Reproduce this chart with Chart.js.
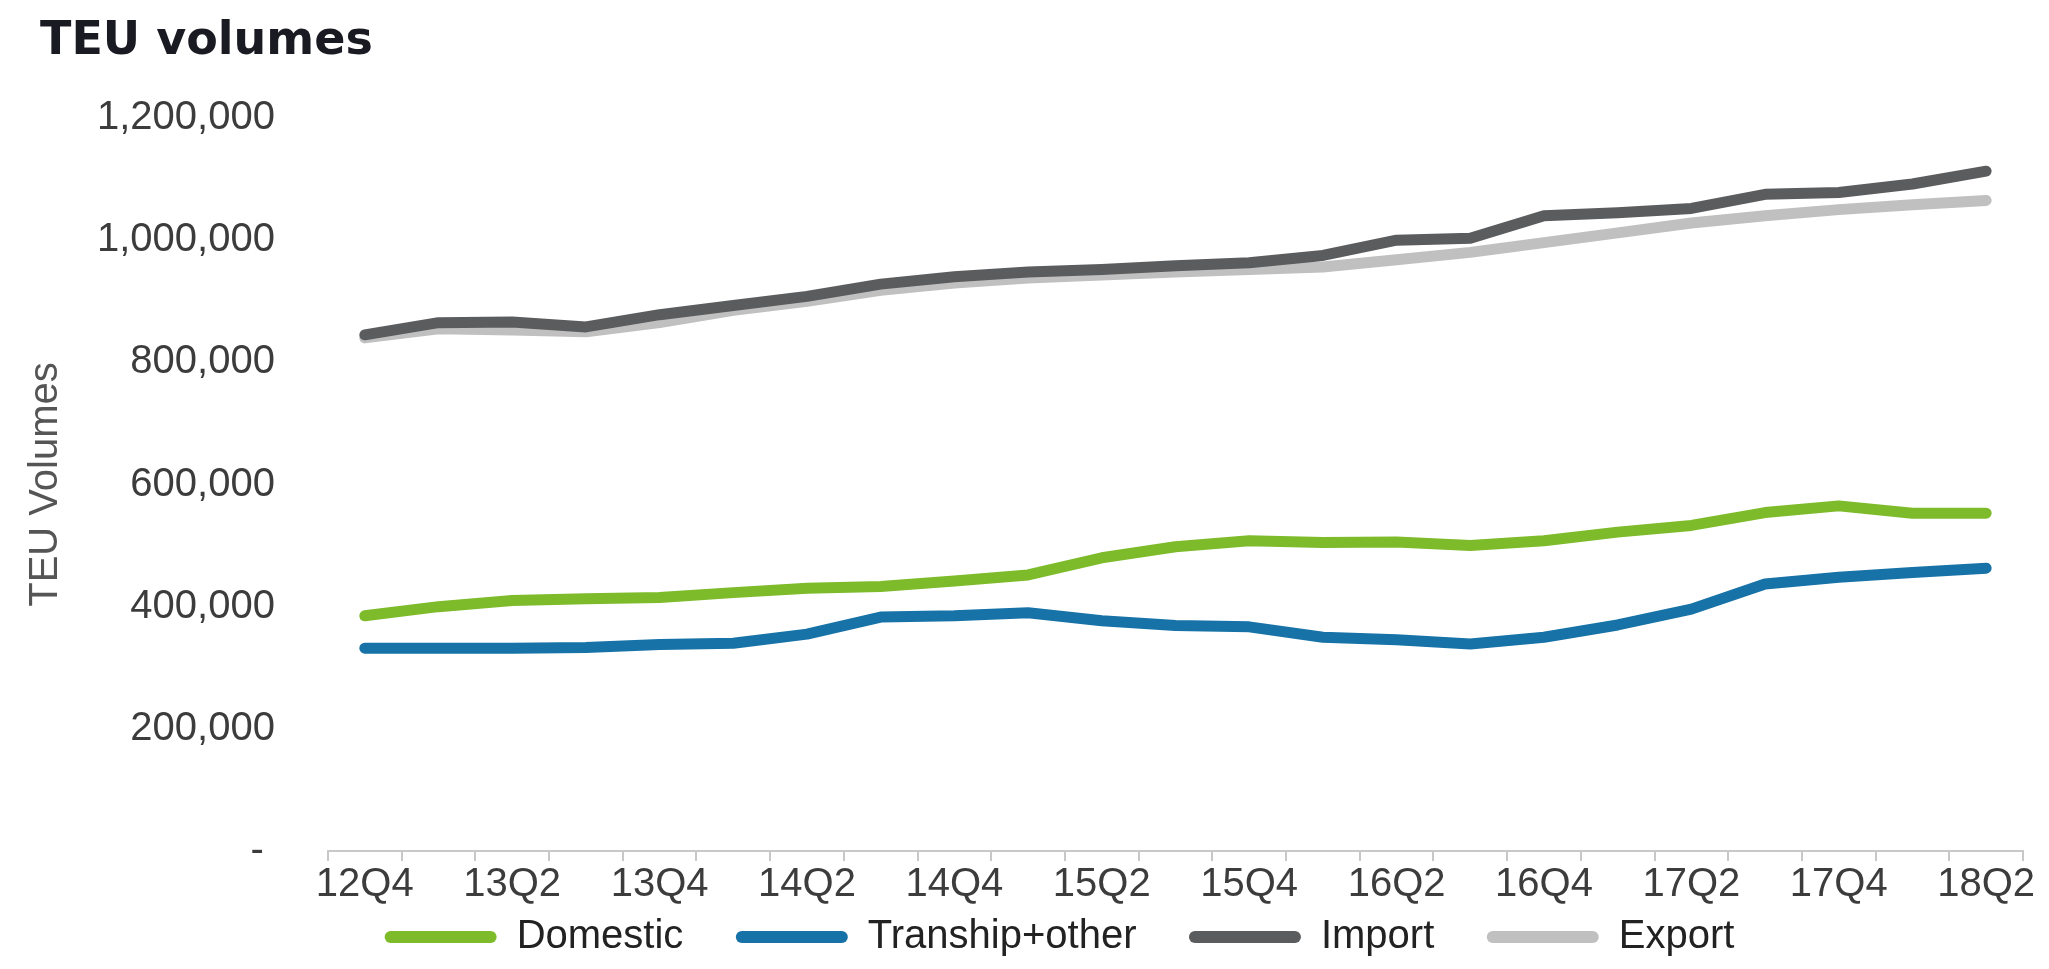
<!DOCTYPE html>
<html>
<head>
<meta charset="utf-8">
<title>TEU volumes</title>
<script src="https://cdn.jsdelivr.net/npm/chart.js@4.4.1/dist/chart.umd.min.js"></script>
<style>
    html, body { margin: 0; padding: 0; background: #ffffff; }
    #wrap { position: relative; width: 2049px; height: 969px; }
    #chart-title {
        position: absolute; left: 40px; top: 15px;
        font-family: "DejaVu Sans", Verdana, sans-serif; font-weight: bold;
        font-size: 46px; line-height: 46px; color: #1a1a22;
    }
    canvas { position: absolute; left: 0; top: 0; }
</style>
</head>
<body>
<div id="wrap">
    <canvas id="teu-chart" width="2049" height="969"></canvas>
    <div id="chart-title">TEU volumes</div>
</div>
<script>
    // quarterly TEU volumes
    var quarters = ["12Q4", "13Q1", "13Q2", "13Q3", "13Q4", "14Q1", "14Q2", "14Q3", "14Q4",
        "15Q1", "15Q2", "15Q3", "15Q4", "16Q1", "16Q2", "16Q3", "16Q4",
        "17Q1", "17Q2", "17Q3", "17Q4", "18Q1", "18Q2"];
    var domestic = [385000, 400000, 410000, 413000, 415000, 423000, 430000, 433000, 442000,
        452000, 480000, 498000, 508000, 505000, 506000, 500000, 508000,
        522000, 533000, 554000, 565000, 553000, 553000];
    var tranship = [332000, 332000, 332000, 333000, 338000, 340000, 355000, 383000, 385000,
        390000, 377000, 369000, 367000, 350000, 346000, 339000, 350000,
        370000, 396000, 437000, 448000, 456000, 463000];
    var imports = [845000, 865000, 866000, 858000, 878000, 893000, 908000, 928000, 940000,
        948000, 952000, 958000, 963000, 975000, 1000000, 1003000, 1040000,
        1045000, 1052000, 1075000, 1078000, 1092000, 1113000];
    var exports = [840000, 855000, 853000, 850000, 865000, 885000, 900000, 918000, 930000,
        938000, 943000, 948000, 952000, 956000, 968000, 980000, 996000,
        1012000, 1028000, 1040000, 1050000, 1058000, 1065000];
    var yTicks = [0, 200000, 400000, 600000, 800000, 1000000, 1200000];

    document.addEventListener("DOMContentLoaded", function() {
        var ctx = document.getElementById("teu-chart").getContext("2d");
        var fontFamily = "'Liberation Sans', Arial, sans-serif";

        function lineSet(label, data, color) {
            return {
                label: label,
                data: data,
                borderColor: color,
                backgroundColor: color,
                borderWidth: 11,
                borderCapStyle: 'round',
                borderJoinStyle: 'round',
                pointRadius: 0,
                tension: 0,
                fill: false
            };
        }

        new Chart(ctx, {
            type: "line",
            data: {
                labels: quarters,
                datasets: [
                    lineSet("Domestic", domestic, "#7dbb2a"),
                    lineSet("Tranship+other", tranship, "#1672a7"),
                    lineSet("Import", imports, "#5b5c5e"),
                    lineSet("Export", exports, "#c0c0c0")
                ]
            },
            options: {
                responsive: false,
                animation: false,
                layout: { padding: { left: 96, right: 26, top: 118, bottom: 2 } },
                font: { family: fontFamily },
                scales: {
                    x: {
                        offset: true,
                        grid: {
                            display: true,
                            offset: true,
                            drawOnChartArea: false,
                            drawTicks: true,
                            tickLength: 10,
                            color: "#c8c8c8",
                            lineWidth: 2
                        },
                        border: { display: true, color: "#c8c8c8", width: 2 },
                        ticks: {
                            autoSkip: false,
                            maxRotation: 0,
                            minRotation: 0,
                            padding: 0,
                            color: "#3c3c3c",
                            font: { family: fontFamily, size: 40, lineHeight: 1.2 },
                            // every second quarter gets a label, like the original
                            callback: function(value, index) {
                                return index % 2 === 0 ? quarters[index] : "";
                            }
                        }
                    },
                    y: {
                        min: 0,
                        max: 1200000,
                        grid: { display: false },
                        border: { display: false },
                        afterBuildTicks: function(axis) {
                            axis.ticks = yTicks.map(function(v) { return { value: v }; });
                        },
                        ticks: {
                            padding: 45,
                            color: "#3c3c3c",
                            font: { family: fontFamily, size: 40 },
                            callback: function(value) {
                                return value === 0 ? "- " : value.toLocaleString("en-US");
                            }
                        },
                        title: {
                            display: true,
                            text: "TEU Volumes",
                            color: "#555555",
                            font: { family: fontFamily, size: 40, lineHeight: 1.2 },
                            padding: { top: -74, bottom: -18 }
                        }
                    }
                },
                plugins: {
                    title: { display: false },
                    tooltip: { enabled: false },
                    legend: {
                        position: 'bottom',
                        labels: {
                            boxWidth: 112,
                            boxHeight: 12,
                            padding: 8,
                            color: "#222222",
                            useBorderRadius: true,
                            borderRadius: 6,
                            font: { family: fontFamily, size: 40 },
                            generateLabels: function(chart) {
                                var items = Chart.defaults.plugins.legend.labels.generateLabels(chart);
                                return items.map(function(item, i) {
                                    item.lineWidth = 0;
                                    item.fillStyle = item.strokeStyle;
                                    // trailing spaces widen the gap between legend entries
                                    if (i < items.length - 1) item.text = item.text + "    ";
                                    return item;
                                });
                            }
                        }
                    }
                }
            }
        });
    });
</script>
</body>
</html>
